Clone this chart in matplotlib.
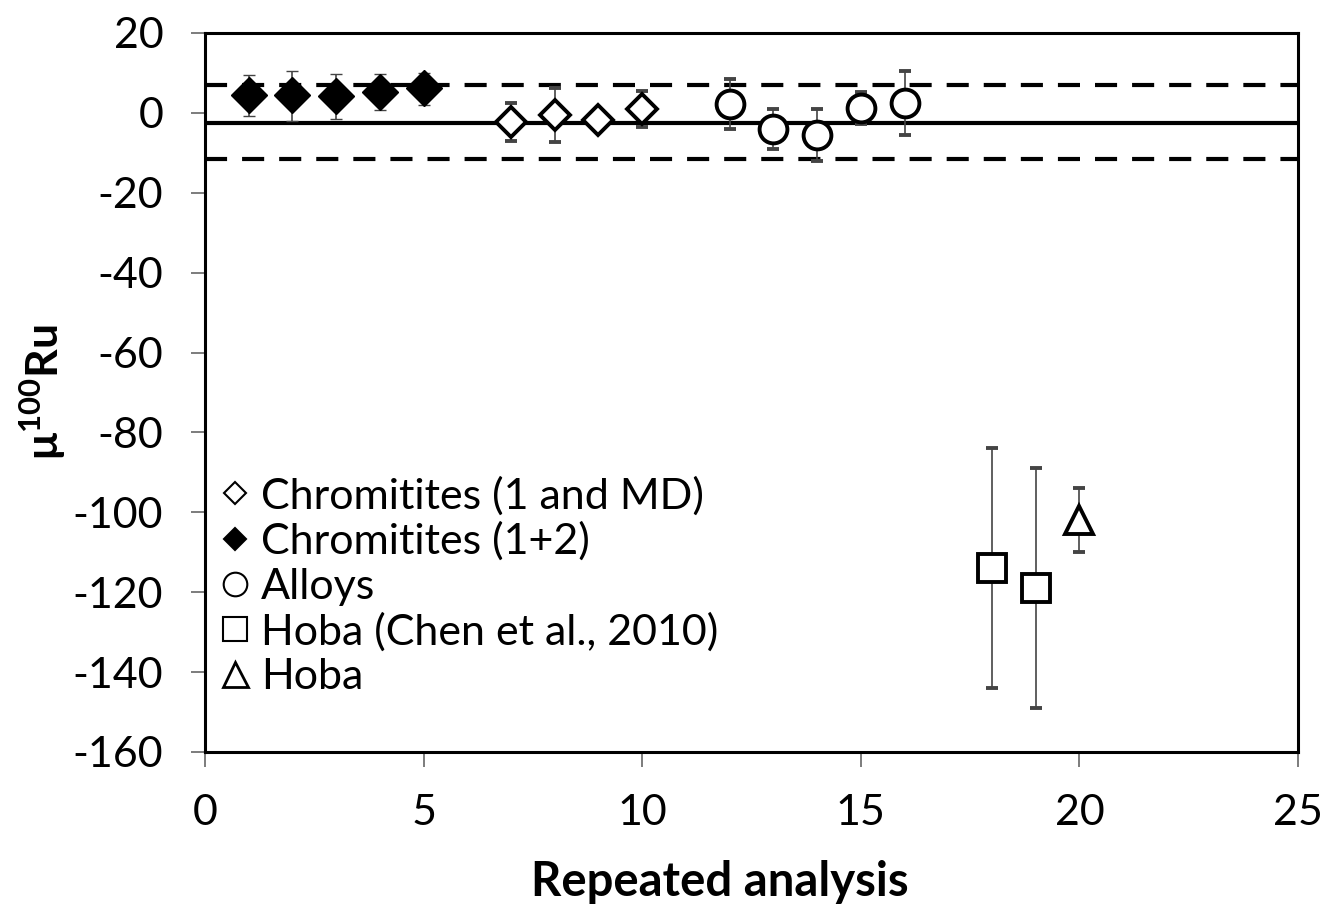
import numpy as np
import matplotlib
matplotlib.use("Agg")
import matplotlib.pyplot as plt
from matplotlib.lines import Line2D

plt.rcParams['font.family'] = ['Lato', 'DejaVu Sans']
plt.rcParams['mathtext.fontset'] = 'custom'
plt.rcParams['mathtext.rm'] = 'Lato'
plt.rcParams['mathtext.bf'] = 'Lato:bold'
plt.rcParams['axes.unicode_minus'] = False

# data
chr12_x = [1, 2, 3, 4, 5]
chr12_y = [4.5, 4.5, 4.3, 5.3, 6.2]
chr12_lo = [5.4, 6.5, 5.9, 4.5, 4.3]
chr12_hi = [5.0, 6.0, 5.4, 4.4, 3.9]

chrmd_x = [7, 8, 9, 10]
chrmd_y = [-2.2, -0.5, -1.8, 0.9]
chrmd_err = [4.8, 6.8, 0.0, 4.5]

alloy_x = [12, 13, 14, 15, 16]
alloy_y = [2.2, -4.0, -5.5, 1.2, 2.4]
alloy_err = [6.2, 5.0, 6.5, 4.0, 8.0]

chen_x = [18, 19]
chen_y = [-114, -119]
chen_err = [30, 30]

hoba_x = [20]
hoba_y = [-102]
hoba_err = [8]

mean_line = -2.5
upper_line = 7.0
lower_line = -11.5

legend_labels = ['Chromitites (1 and MD)', 'Chromitites (1+2)', 'Alloys',
                 'Hoba (Chen et al., 2010)', 'Hoba']

fig = plt.figure(figsize=(13.24, 9.08), dpi=100)
ax = fig.add_axes([205/1324, 1-752/908, 1093/1324, 719/908])

ax.axhline(mean_line, color='k', lw=3, zorder=1)
ax.axhline(upper_line, color='k', lw=3, ls=(0, (5.3, 3.6)), zorder=1)
ax.axhline(lower_line, color='k', lw=3, ls=(0, (5.3, 3.6)), zorder=1)

ekw = dict(ecolor='#444444', elinewidth=1.2, capsize=4.5, capthick=1.2, ls='none', zorder=3)

ax.errorbar(chr12_x, chr12_y, yerr=[chr12_lo, chr12_hi], marker='D', ms=18,
            mfc='black', mec='black', mew=1, **ekw)
ax.errorbar(chrmd_x, chrmd_y, yerr=chrmd_err, marker='D', ms=15.5,
            mfc='white', mec='black', mew=2.8, **ekw)
ax.errorbar(alloy_x, alloy_y, yerr=alloy_err, marker='o', ms=20,
            mfc='white', mec='black', mew=2.8, **ekw)
ax.errorbar(chen_x, chen_y, yerr=chen_err, marker='s', ms=20,
            mfc='white', mec='black', mew=2.8, **ekw)
ax.errorbar(hoba_x, hoba_y, yerr=hoba_err, marker='^', ms=20,
            mfc='white', mec='black', mew=2.8, **ekw)

handles = [
    Line2D([], [], ls='none', marker='D', ms=11, mfc='white', mec='black', mew=1.5),
    Line2D([], [], ls='none', marker='D', ms=11, mfc='black', mec='black', mew=1.5),
    Line2D([], [], ls='none', marker='o', ms=17, mfc='white', mec='black', mew=1.5),
    Line2D([], [], ls='none', marker='s', ms=17, mfc='white', mec='black', mew=1.5),
    Line2D([], [], ls='none', marker='^', ms=18, mfc='white', mec='black', mew=2.0),
]
ax.legend(handles, legend_labels, loc='lower left', bbox_to_anchor=(0.0, 0.06),
          frameon=False, fontsize=31, handlelength=0.8, handletextpad=0.2,
          labelspacing=0.15, borderpad=0.1, borderaxespad=0.2)

ax.set_xlim(0, 25)
ax.set_ylim(-160, 20)
ax.set_xticks(np.arange(0, 26, 5))
ax.set_yticks(np.arange(-160, 21, 20))
ax.tick_params(axis='both', direction='out', color='#666666', width=1.2,
               labelsize=31)
ax.tick_params(axis='y', length=10, pad=20)
ax.tick_params(axis='x', length=11, pad=19)
for s in ax.spines.values():
    s.set_linewidth(2.2)
    s.set_color('black')

ax.set_xlabel('Repeated analysis', fontsize=34, fontweight='bold')
ax.xaxis.set_label_coords(0.471, -0.15)
ax.set_ylabel(r'μ$^{\mathbf{100}}$Ru', fontsize=32, fontweight='bold')
ax.yaxis.set_label_coords(-0.125, 0.5)

fig.savefig('out.png', dpi=100)
